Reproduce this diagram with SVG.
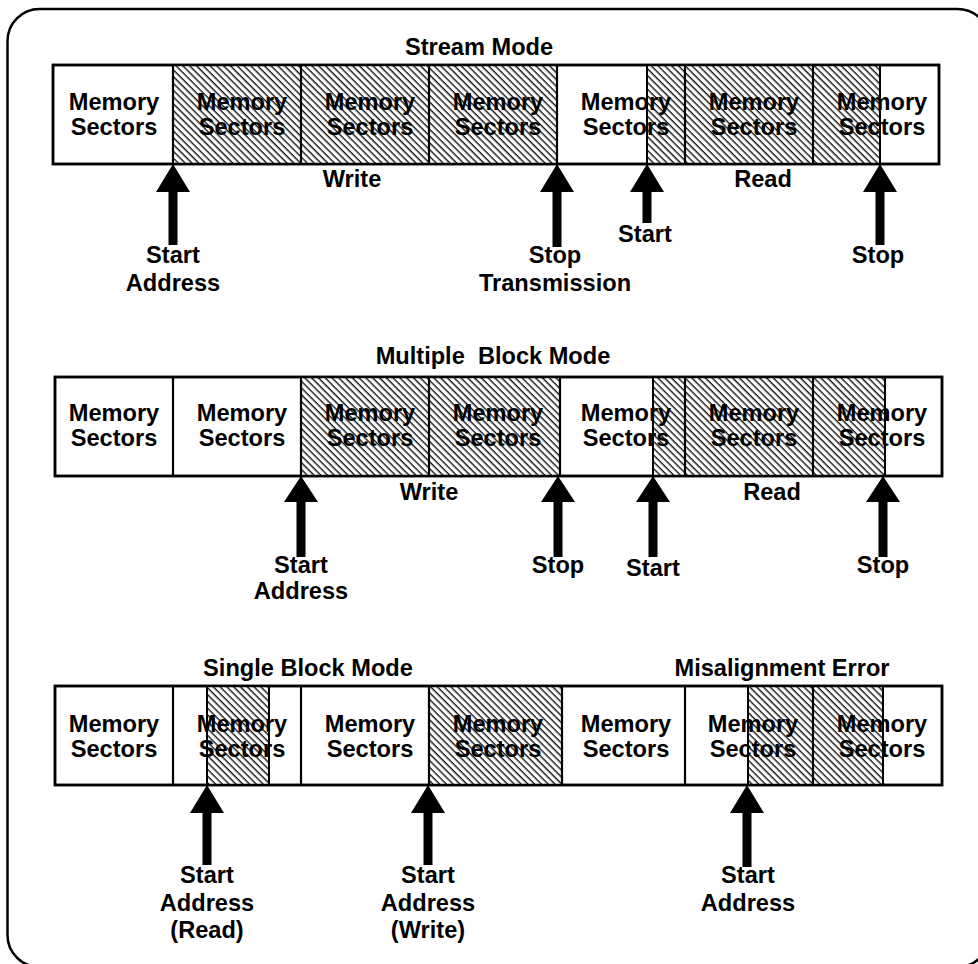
<svg xmlns="http://www.w3.org/2000/svg" width="978" height="964" viewBox="0 0 978 964">
<defs>
<pattern id="hatch" width="4.8" height="4.8" patternUnits="userSpaceOnUse" patternTransform="rotate(-45)">
<rect width="4.8" height="4.8" fill="#ffffff"/>
<line x1="1.2" y1="0" x2="1.2" y2="4.8" stroke="#000" stroke-width="1.3"/>
</pattern>
</defs>
<style>
text{font-family:"Liberation Sans",Arial,Helvetica,sans-serif;font-weight:bold;font-size:23.6px;fill:#000;text-anchor:middle}
.box{fill:#fff;stroke:#000;stroke-width:2.5}
.h{fill:url(#hatch);stroke:#000;stroke-width:2}
.v{stroke:#000;stroke-width:2.2}
.arrow{fill:#000}
</style>
<rect x="7.5" y="9" width="982" height="958" rx="32" ry="32" fill="#fff" stroke="#000" stroke-width="2.5"/>

<!-- Stream Mode -->
<g id="stream">
<text x="479" y="55">Stream Mode</text>
<rect class="box" x="53" y="65" width="886" height="99"/>
<rect class="h" x="173" y="65" width="384" height="99"/>
<rect class="h" x="647" y="65" width="233" height="99"/>
<line class="v" x1="173" y1="65" x2="173" y2="164"/>
<line class="v" x1="301" y1="65" x2="301" y2="164"/>
<line class="v" x1="429" y1="65" x2="429" y2="164"/>
<line class="v" x1="557" y1="65" x2="557" y2="164"/>
<line class="v" x1="685" y1="65" x2="685" y2="164"/>
<line class="v" x1="813" y1="65" x2="813" y2="164"/>
<rect x="53" y="65" width="886" height="99" fill="none" stroke="#000" stroke-width="2.5"/>
<g id="s1"><text x="114" y="110">Memory</text><text x="114" y="135">Sectors</text></g>
<g id="s2"><text x="242" y="110">Memory</text><text x="242" y="135">Sectors</text></g>
<g id="s3"><text x="370" y="110">Memory</text><text x="370" y="135">Sectors</text></g>
<g id="s4"><text x="498" y="110">Memory</text><text x="498" y="135">Sectors</text></g>
<g id="s5"><text x="626" y="110">Memory</text><text x="626" y="135">Sectors</text></g>
<g id="s6"><text x="754" y="110">Memory</text><text x="754" y="135">Sectors</text></g>
<g id="s7"><text x="882" y="110">Memory</text><text x="882" y="135">Sectors</text></g>
<text x="352" y="187">Write</text>
<text x="763" y="187">Read</text>
<text x="173" y="263">Start</text><text x="173" y="291">Address</text>
<text x="555" y="263">Stop</text><text x="555" y="291">Transmission</text>
<text x="645" y="242">Start</text>
<text x="878" y="263">Stop</text>
</g>

<!-- Multiple Block Mode -->
<g id="multiple">
<text x="493" y="364" xml:space="preserve">Multiple  Block Mode</text>
<rect class="box" x="55" y="377" width="887" height="99"/>
<rect class="h" x="301" y="377" width="259" height="99"/>
<rect class="h" x="653" y="377" width="232" height="99"/>
<line class="v" x1="173" y1="377" x2="173" y2="476"/>
<line class="v" x1="301" y1="377" x2="301" y2="476"/>
<line class="v" x1="429" y1="377" x2="429" y2="476"/>
<line class="v" x1="560" y1="377" x2="560" y2="476"/>
<line class="v" x1="685" y1="377" x2="685" y2="476"/>
<line class="v" x1="813" y1="377" x2="813" y2="476"/>
<rect x="55" y="377" width="887" height="99" fill="none" stroke="#000" stroke-width="2.5"/>
<g id="m1"><text x="114" y="421">Memory</text><text x="114" y="446">Sectors</text></g>
<g id="m2"><text x="242" y="421">Memory</text><text x="242" y="446">Sectors</text></g>
<g id="m3"><text x="370" y="421">Memory</text><text x="370" y="446">Sectors</text></g>
<g id="m4"><text x="498" y="421">Memory</text><text x="498" y="446">Sectors</text></g>
<g id="m5"><text x="626" y="421">Memory</text><text x="626" y="446">Sectors</text></g>
<g id="m6"><text x="754" y="421">Memory</text><text x="754" y="446">Sectors</text></g>
<g id="m7"><text x="882" y="421">Memory</text><text x="882" y="446">Sectors</text></g>
<text x="429" y="500">Write</text>
<text x="772" y="500">Read</text>
<text x="301" y="573">Start</text><text x="301" y="599">Address</text>
<text x="558" y="573">Stop</text>
<text x="653" y="576">Start</text>
<text x="883" y="573">Stop</text>
</g>

<!-- Single Block Mode -->
<g id="single">
<text x="308" y="676">Single Block Mode</text>
<text x="782" y="676">Misalignment Error</text>
<rect class="box" x="55" y="686" width="887" height="99"/>
<rect class="h" x="207" y="686" width="62" height="99"/>
<rect class="h" x="429" y="686" width="133" height="99"/>
<rect class="h" x="748" y="686" width="135" height="99"/>
<line class="v" x1="173" y1="686" x2="173" y2="785"/>
<line class="v" x1="301" y1="686" x2="301" y2="785"/>
<line class="v" x1="429" y1="686" x2="429" y2="785"/>
<line class="v" x1="562" y1="686" x2="562" y2="785"/>
<line class="v" x1="685" y1="686" x2="685" y2="785"/>
<line class="v" x1="813" y1="686" x2="813" y2="785"/>
<rect x="55" y="686" width="887" height="99" fill="none" stroke="#000" stroke-width="2.5"/>
<g id="b1"><text x="114" y="732">Memory</text><text x="114" y="757">Sectors</text></g>
<g id="b2"><text x="242" y="732">Memory</text><text x="242" y="757">Sectors</text></g>
<g id="b3"><text x="370" y="732">Memory</text><text x="370" y="757">Sectors</text></g>
<g id="b4"><text x="498" y="732">Memory</text><text x="498" y="757">Sectors</text></g>
<g id="b5"><text x="626" y="732">Memory</text><text x="626" y="757">Sectors</text></g>
<g id="b6"><text x="753" y="732">Memory</text><text x="753" y="757">Sectors</text></g>
<g id="b7"><text x="882" y="732">Memory</text><text x="882" y="757">Sectors</text></g>
<text x="207" y="883">Start</text><text x="207" y="911">Address</text><text x="207" y="938">(Read)</text>
<text x="428" y="883">Start</text><text x="428" y="911">Address</text><text x="428" y="938">(Write)</text>
<text x="748" y="883">Start</text><text x="748" y="911">Address</text>
</g>

<!-- Arrows -->
<g id="connectors" class="arrow">
<path d="M173 164 L190 192 L177.5 192 L177.5 245 L168.5 245 L168.5 192 L156 192 Z"/>
<path d="M557 164 L574 192 L561.5 192 L561.5 247 L552.5 247 L552.5 192 L540 192 Z"/>
<path d="M647 164 L664 192 L651.5 192 L651.5 223 L642.5 223 L642.5 192 L630 192 Z"/>
<path d="M880 164 L897 192 L884.5 192 L884.5 245 L875.5 245 L875.5 192 L863 192 Z"/>

<path d="M301 476 L318 502 L305.5 502 L305.5 557 L296.5 557 L296.5 502 L284 502 Z"/>
<path d="M558 476 L575 502 L562.5 502 L562.5 557 L553.5 557 L553.5 502 L541 502 Z"/>
<path d="M653 476 L670 502 L657.5 502 L657.5 557 L648.5 557 L648.5 502 L636 502 Z"/>
<path d="M883 476 L900 502 L887.5 502 L887.5 557 L878.5 557 L878.5 502 L866 502 Z"/>

<path d="M207 785 L224 813 L211.5 813 L211.5 865 L202.5 865 L202.5 813 L190 813 Z"/>
<path d="M428 785 L445 813 L432.5 813 L432.5 865 L423.5 865 L423.5 813 L411 813 Z"/>
<path d="M747 785 L764 813 L751.5 813 L751.5 867 L742.5 867 L742.5 813 L730 813 Z"/>
</g>
</svg>
